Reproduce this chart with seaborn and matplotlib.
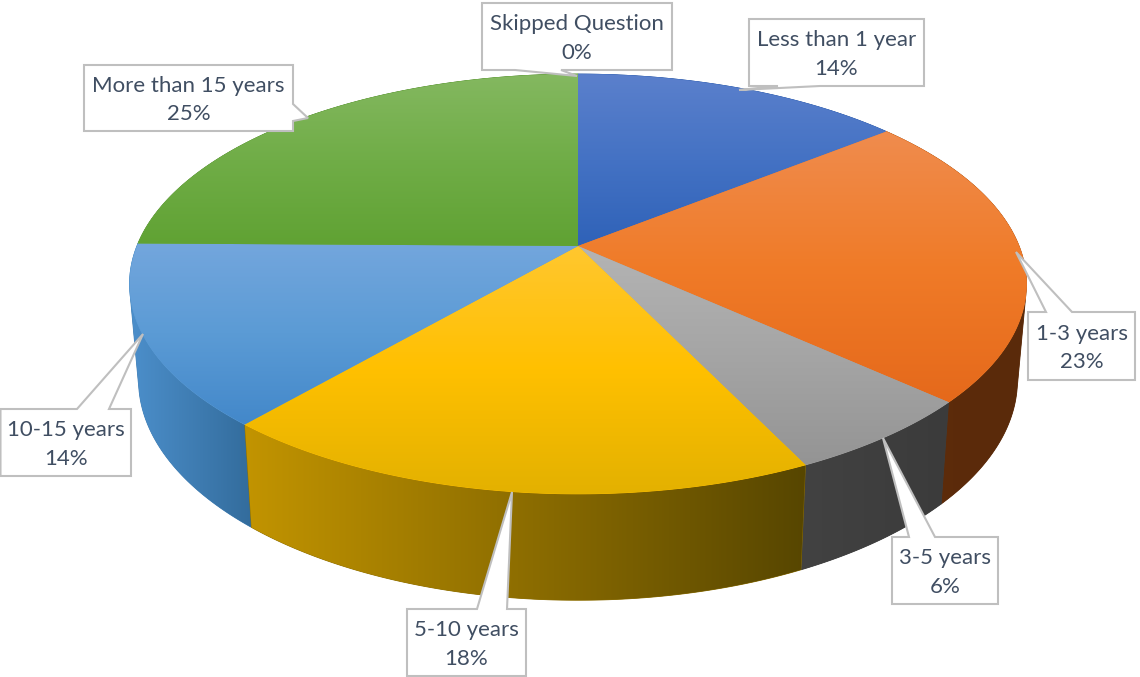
import numpy as np
import matplotlib
matplotlib.use("Agg")
import matplotlib.pyplot as plt
from matplotlib.patches import Polygon
import seaborn as sns

# ---- data ----
categories = ["Less than 1 year", "1-3 years", "3-5 years", "5-10 years",
              "10-15 years", "More than 15 years", "Skipped Question"]
shares = [14.2, 22.6, 6.1, 18.4, 13.9, 24.8, 0]

# ---- colours: top surface (upper, middle, lower) and side wall (left, right) ----
top_colors = [("#5B80CC", "#4472C4", "#2F62B8"), ("#EF8C4E", "#F07B28", "#E5691B"),
              ("#B4B4B4", "#A5A5A5", "#949494"), ("#FFC72F", "#FFC000", "#E3B100"),
              ("#73A6DD", "#5B9BD5", "#4388CA"), ("#84B860", "#70AD47", "#60A233"),
              ("#84B860", "#70AD47", "#60A233")]
wall_colors = [("#244A8C", "#244A8C"), ("#5E2C0B", "#5A2A0A"), ("#424242", "#3B3B3B"),
               ("#C29400", "#574600"), ("#4C8FCB", "#336C9C"), ("#3F6E22", "#3F6E22"),
               ("#3F6E22", "#3F6E22")]

# ---- callout layout: box (x0, x1, y0, y1), side, tail base a, tip, tail base b ----
callouts = {
    "Skipped Question": ((482, 672, 3, 70), "bottom", (515, 70), (577, 76), (561, 70)),
    "Less than 1 year": ((749, 924, 19, 86), "bottom", (778, 86), (739, 90), (820, 86)),
    "1-3 years": ((1028, 1135, 312, 380), "top", (1046, 312), (1016, 252), (1072, 312)),
    "3-5 years": ((892, 998, 537, 604), "top", (909, 537), (883, 438), (935, 537)),
    "5-10 years": ((407, 526, 609, 676), "top", (477, 609), (512, 492), (507, 609)),
    "10-15 years": ((0.5, 131, 409, 476), "top", (77, 409), (143, 334), (109, 409)),
    "More than 15 years": ((84, 293, 65, 131), "right", (293, 104), (308, 118), (293, 121)),
}

# ---- projection ----
CX, CY, A, B, K = 578, 246, 203, 441, 0.181
DEPTH, SX, SY = 94, 0.98, 1.05


def top_point(theta):
    d = 1 + K * np.cos(theta)
    return B * np.sin(theta) / d, -A * np.cos(theta) / d


def arcs(a0, a1):
    n = max(2, int(np.degrees(a1 - a0)) * 2)
    t = np.linspace(a0, a1, n)
    x, y = top_point(t)
    return (np.column_stack([CX + x, CY + y]),
            np.column_stack([CX + SX * x, CY + DEPTH + SY * y]))


def hull(points):
    """Convex outline of the swept side wall (keeps the straight silhouette)."""
    pts = sorted(map(tuple, points))

    def half(seq):
        out = []
        for p in seq:
            while len(out) > 1 and ((out[-1][0] - out[-2][0]) * (p[1] - out[-2][1])
                                    - (out[-1][1] - out[-2][1]) * (p[0] - out[-2][0])) <= 0:
                out.pop()
            out.append(p)
        return out[:-1]

    return np.array(half(pts) + half(pts[::-1]))


def grad_fill(ax, verts, colors, horizontal, z):
    cmap = sns.blend_palette(list(colors), n_colors=256, as_cmap=True)
    x0, x1 = verts[:, 0].min(), verts[:, 0].max()
    y0, y1 = verts[:, 1].min(), verts[:, 1].max()
    ramp = np.linspace(0, 1, 256)
    arr = ramp[None, :] if horizontal else ramp[:, None]
    base = Polygon(verts, closed=True, fc=cmap(0.5), ec=cmap(0.5), lw=0.6, zorder=z)
    ax.add_patch(base)
    im = ax.imshow(arr, cmap=cmap, vmin=0, vmax=1, extent=(x0, x1, y1, y0),
                   origin="upper", aspect="auto", zorder=z + 0.1,
                   interpolation="bilinear")
    clip = Polygon(verts, closed=True, transform=ax.transData)
    im.set_clip_path(clip)


sns.set_theme(style="white")
plt.rcParams["font.family"] = ["Lato", "DejaVu Sans"]

fig = plt.figure(figsize=(11.4, 6.77), dpi=100, facecolor="white")
ax = fig.add_axes([0, 0, 1, 1])
ax.set_autoscale_on(False)
ax.set_xlim(0, 1140)
ax.set_ylim(677, 0)
ax.axis("off")

edges = np.radians(np.concatenate([[0], np.cumsum(shares)]) * 360 / sum(shares))
slices = [(i, edges[i], edges[i + 1]) for i in range(len(shares)) if shares[i] > 0]

# walls, back to front
for order, (i, a0, a1) in enumerate(sorted(slices, key=lambda s: -np.cos((s[1] + s[2]) / 2))):
    top, bottom = arcs(a0, a1)
    verts = hull(np.vstack([top, bottom]))
    grad_fill(ax, verts, wall_colors[i], True, 2 + order)

# top surface
for i, a0, a1 in slices:
    top, _ = arcs(a0, a1)
    verts = np.vstack([[CX, CY], top])
    grad_fill(ax, verts, top_colors[i], False, 20)

# callouts
for name, share in zip(categories, shares):
    (x0, x1, y0, y1), side, p, tip, q = callouts[name]
    if side == "top":
        pts = [(x0, y0), p, tip, q, (x1, y0), (x1, y1), (x0, y1)]
    elif side == "bottom":
        first, last = (p, q) if p[0] > q[0] else (q, p)
        pts = [(x0, y0), (x1, y0), (x1, y1), first, tip, last, (x0, y1)]
    else:
        pts = [(x0, y0), (x1, y0), p, tip, q, (x1, y1), (x0, y1)]
    ax.add_patch(Polygon(pts, closed=True, fc="white", ec="#BFBFBF", lw=1.5,
                         joinstyle="miter", zorder=30))
    xm, ym = (x0 + x1) / 2, (y0 + y1) / 2
    ax.text(xm, ym - 12.5, name, ha="center", va="center", fontsize=16,
            color="#404E62", zorder=31)
    ax.text(xm, ym + 16.5, f"{round(share)}%", ha="center", va="center", fontsize=16,
            color="#404E62", zorder=31)

fig.savefig("out.png", dpi=100, facecolor="white")
